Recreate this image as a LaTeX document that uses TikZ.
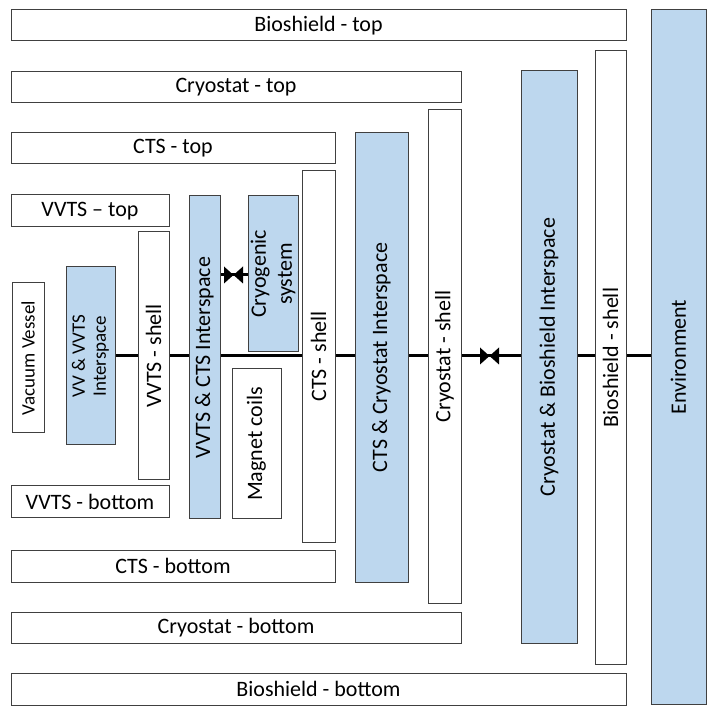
\documentclass[tikz,border=0pt]{standalone}
\usepackage{fontspec}
\setmainfont{Carlito}
\usetikzlibrary{backgrounds}
\definecolor{edge}{HTML}{404040}
\definecolor{ifill}{HTML}{BDD7EE}

\begin{document}
\begin{tikzpicture}[x=1pt,y=-1pt,
  box/.style={draw=edge,fill=white,line width=1pt,inner sep=0pt,align=center,font=\fontsize{22}{26}\selectfont},
  inter/.style={box,fill=ifill},
  vert/.style={rotate=90},
  small/.style={font=\fontsize{19}{21}\selectfont},
  pipe/.style={line width=3pt,black}]
  \useasboundingbox (0,0) rectangle (710,708);
  % top and bottom slabs
  \node[box,minimum width=615pt,minimum height=31pt] (biotop) at (318.5,25.5) {Bioshield - top};
  \node[box,minimum width=450pt,minimum height=31pt] (cryotop) at (236,87.5) {Cryostat - top};
  \node[box,minimum width=324pt,minimum height=31pt] (ctstop) at (173,148.5) {CTS - top};
  \node[box,minimum width=158pt,minimum height=32pt] (vvtstop) at (90,211) {VVTS -- top};
  \node[box,minimum width=158pt,minimum height=32pt] (vvtsbot) at (90,502) {VVTS - bottom};
  \node[box,minimum width=324pt,minimum height=32pt] (ctsbot) at (173,566) {CTS - bottom};
  \node[box,minimum width=450pt,minimum height=31pt] (cryobot) at (236,627.5) {Cryostat - bottom};
  \node[box,minimum width=615pt,minimum height=32pt] (biobot) at (318.5,689) {Bioshield - bottom};
  % shells and interspaces, inside out
  \node[box,vert,small,minimum width=150pt,minimum height=32pt] (vessel) at (28,358) {Vacuum Vessel};
  \node[inter,vert,small,minimum width=178pt,minimum height=49pt] (vvint) at (90.5,356) {VV \& VVTS\\Interspace};
  \node[box,vert,minimum width=248pt,minimum height=31pt] (vvtsshell) at (153.5,356) {VVTS - shell};
  \node[inter,vert,minimum width=323pt,minimum height=31pt] (vctsint) at (204.5,357.5) {VVTS \& CTS Interspace};
  \node[inter,vert,minimum width=156pt,minimum height=50pt] (cryogen) at (273,274) {Cryogenic\\system};
  \node[box,vert,minimum width=150pt,minimum height=49pt] (magnet) at (256.5,444) {Magnet coils};
  \node[box,vert,minimum width=371pt,minimum height=33pt] (ctsshell) at (318.5,356.5) {CTS - shell};
  \node[inter,vert,minimum width=449pt,minimum height=53pt] (ccint) at (381.5,357.5) {CTS \& Cryostat Interspace};
  \node[box,vert,minimum width=493pt,minimum height=33pt] (cryoshell) at (444.5,356.5) {Cryostat - shell};
  \node[inter,vert,minimum width=572pt,minimum height=56pt] (cbint) at (549,357) {Cryostat \& Bioshield Interspace};
  \node[box,vert,minimum width=613pt,minimum height=31pt] (bioshell) at (610.5,357.5) {Bioshield - shell};
  \node[inter,vert,minimum width=694pt,minimum height=55pt] (env) at (678.5,357) {Environment};
  % valves
  \coordinate (v1) at (233.5,275);
  \coordinate (v2) at (489.5,356);
  \begin{scope}[on background layer]
    \draw[pipe] (vvint.center) -- (vvint.center -| env.center);
    \draw[pipe] (vctsint.center |- v1) -- (cryogen.center |- v1);
  \end{scope}
  \foreach \v in {v1,v2}{\fill (\v) ++(-9.5,-8.5) -- ++(19,17) -- ++(0,-17) -- ++(-19,17) -- cycle;}
\end{tikzpicture}
\end{document}
